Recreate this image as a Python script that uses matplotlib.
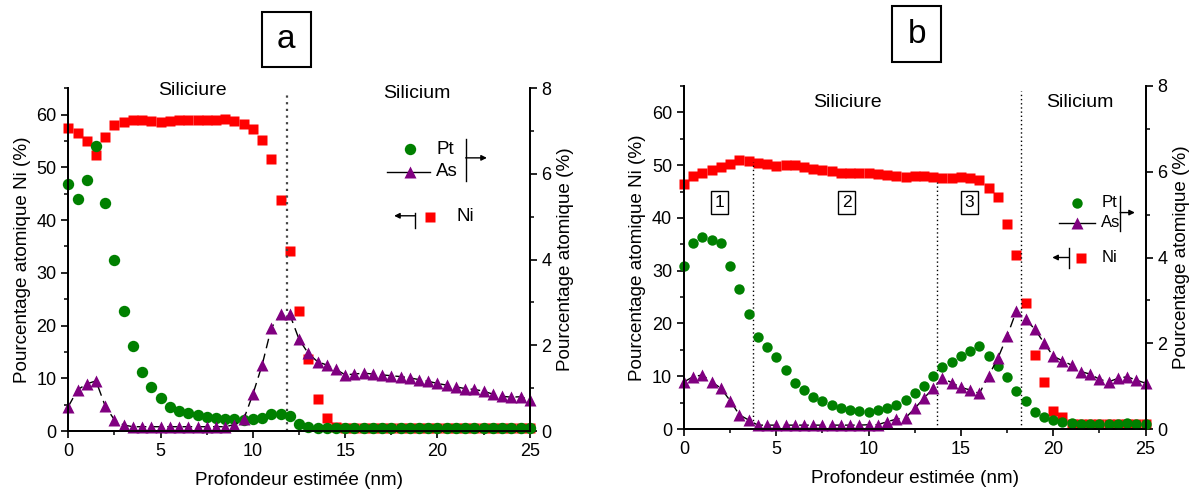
import numpy as np
import matplotlib
matplotlib.use("Agg")
import matplotlib.pyplot as plt
from matplotlib.ticker import MultipleLocator
from matplotlib.patches import Rectangle

plt.rcParams['font.family'] = ['Liberation Sans', 'DejaVu Sans']

# ---------------- data ----------------
depth = np.linspace(0, 25, 51)   # nm, 0.5 nm step

ni_a = [57.5, 56.6, 55.0, 52.3, 55.8, 58.0, 58.7, 59.0, 59.0, 58.8,
        58.6, 58.8, 58.9, 58.9, 58.9, 59.0, 59.0, 59.2, 58.8, 58.2,
        57.3, 55.2, 51.5, 43.8, 34.1, 22.7, 13.6, 6.0, 2.4, 0.8,
        0.5, 0.5, 0.5, 0.5, 0.5, 0.5, 0.5, 0.5, 0.5, 0.5,
        0.5, 0.5, 0.5, 0.5, 0.5, 0.5, 0.5, 0.5, 0.5, 0.5, 0.5]
pt_a = [5.76, 5.41, 5.86, 6.65, 5.33, 4.00, 2.81, 1.99, 1.37, 1.02,
        0.78, 0.57, 0.47, 0.41, 0.37, 0.32, 0.30, 0.28, 0.27, 0.26,
        0.27, 0.31, 0.39, 0.39, 0.34, 0.16, 0.10, 0.07, 0.06, 0.06,
        0.06, 0.06, 0.06, 0.06, 0.06, 0.06, 0.06, 0.06, 0.06, 0.06,
        0.06, 0.06, 0.06, 0.06, 0.06, 0.06, 0.06, 0.06, 0.06, 0.06, 0.06]
as_a = [0.57, 0.96, 1.10, 1.17, 0.58, 0.26, 0.14, 0.10, 0.10, 0.10,
        0.10, 0.10, 0.10, 0.10, 0.10, 0.10, 0.10, 0.10, 0.15, 0.27,
        0.86, 1.54, 2.41, 2.72, 2.72, 2.14, 1.81, 1.62, 1.54, 1.44,
        1.31, 1.33, 1.35, 1.33, 1.31, 1.29, 1.27, 1.24, 1.20, 1.16,
        1.11, 1.07, 1.03, 0.99, 0.97, 0.93, 0.86, 0.81, 0.79, 0.80, 0.72]

ni_b = [46.4, 48.0, 48.5, 49.0, 49.6, 50.3, 51.0, 50.8, 50.5, 50.2,
        49.9, 50.0, 50.0, 49.6, 49.3, 49.1, 48.9, 48.6, 48.5, 48.6,
        48.5, 48.4, 48.2, 47.9, 47.7, 47.9, 48.0, 47.7, 47.5, 47.6,
        47.8, 47.6, 47.2, 45.6, 43.9, 38.8, 33.0, 23.9, 14.0, 9.0,
        3.5, 2.3, 0.9, 0.9, 0.9, 0.9, 0.9, 0.9, 0.9, 0.9, 0.9]
pt_b = [3.80, 4.33, 4.47, 4.40, 4.33, 3.80, 3.27, 2.68, 2.15, 1.92,
        1.67, 1.38, 1.08, 0.91, 0.74, 0.66, 0.56, 0.48, 0.44, 0.43,
        0.40, 0.44, 0.48, 0.56, 0.68, 0.83, 1.00, 1.24, 1.44, 1.57,
        1.70, 1.83, 1.93, 1.71, 1.46, 1.21, 0.89, 0.66, 0.40, 0.29,
        0.21, 0.17, 0.13, 0.12, 0.11, 0.11, 0.11, 0.12, 0.13, 0.12, 0.12]
as_b = [1.10, 1.22, 1.26, 1.10, 0.95, 0.66, 0.33, 0.21, 0.09, 0.09,
        0.09, 0.09, 0.09, 0.09, 0.09, 0.09, 0.09, 0.09, 0.09, 0.09,
        0.10, 0.10, 0.17, 0.23, 0.26, 0.48, 0.72, 0.95, 1.19, 1.08,
        0.97, 0.91, 0.83, 1.24, 1.65, 2.16, 2.75, 2.56, 2.33, 2.01,
        1.70, 1.59, 1.49, 1.34, 1.28, 1.16, 1.10, 1.18, 1.22, 1.14, 1.07]

x_ticks = [0, 5, 10, 15, 20, 25]
left_ticks = [0, 10, 20, 30, 40, 50, 60]
right_ticks = [0, 2, 4, 6, 8]

RED = '#ff0000'
GREEN = '#008000'
PURPLE = '#800080'

fig = plt.figure(figsize=(11.95, 4.91), dpi=100)
W, H = 1195.0, 491.0


def setup(ax, ax2):
    ax.set_xlim(0, 25)
    ax.set_ylim(0, 65)
    ax2.set_ylim(0, 8)
    ax.set_xticks(x_ticks)
    ax.set_yticks(left_ticks)
    ax2.set_yticks(right_ticks)
    ax.xaxis.set_minor_locator(MultipleLocator(2.5))
    ax.yaxis.set_minor_locator(MultipleLocator(5))
    ax2.yaxis.set_minor_locator(MultipleLocator(1))
    for a in (ax, ax2):
        a.spines['top'].set_visible(False)
        for s in a.spines.values():
            s.set_linewidth(1.3)
        a.tick_params(which='major', direction='out', length=5, width=1.2, labelsize=13)
        a.tick_params(which='minor', direction='out', length=3, width=1.1)
    ax.set_xlabel('Profondeur estimée (nm)', fontsize=13.6, labelpad=9)
    ax.set_ylabel('Pourcentage atomique Ni (%)', fontsize=13.6, labelpad=4)
    ax2.set_ylabel('Pourcentage atomique (%)', fontsize=13.6, labelpad=4)
    ax.patch.set_visible(False)


def arrow(ax2, x0, x1, y):
    ax2.annotate('', xy=(x1, y), xytext=(x0, y), xycoords='axes fraction',
                 arrowprops=dict(arrowstyle='-|>', lw=1, color='k', mutation_scale=8,
                                 shrinkA=0, shrinkB=0))


def legend(ax2, p, fs):
    t = ax2.transAxes
    kw = dict(transform=t, clip_on=False)
    ax2.plot([p['pt'][0]], [p['pt'][1]], marker='o', linestyle='none', color=GREEN,
             ms=p['ms'], mec='none', **kw)
    ax2.text(p['txt_x'], p['pt'][1], 'Pt', fontsize=fs, va='center', ha='left', transform=t)
    ax2.plot([p['asl'][0], p['asl'][1]], [p['as_y'], p['as_y']], '-', color='k', lw=1, **kw)
    ax2.plot([p['pt'][0]], [p['as_y']], marker='^', linestyle='none', color=PURPLE,
             ms=p['ms'] + 1, mec='none', **kw)
    ax2.text(p['txt_x'], p['as_y'], 'As', fontsize=fs, va='center', ha='left', transform=t)
    ax2.plot([p['bar1'][0]] * 2, [p['bar1'][1], p['bar1'][2]], '-', color='k', lw=1, **kw)
    arrow(ax2, p['arr1'][0], p['arr1'][1], p['arr1'][2])
    ax2.plot([p['bar2'][0]] * 2, [p['bar2'][1], p['bar2'][2]], '-', color='k', lw=1, **kw)
    arrow(ax2, p['arr2'][0], p['arr2'][1], p['arr2'][2])
    ax2.plot([p['ni'][0]], [p['ni'][1]], marker='s', linestyle='none', color=RED,
             ms=p['ms'] - 0.5, mec='none', **kw)
    ax2.text(p['ni_txt'], p['ni'][1], 'Ni', fontsize=fs, va='center', ha='left', transform=t)


# ---------------- panel a ----------------
axA = fig.add_axes([68.3 / W, 1 - 431 / H, 461.5 / W, 342.7 / H])
axA2 = axA.twinx()
setup(axA, axA2)
axA.plot(depth, ni_a, marker='s', linestyle='none', color=RED, ms=7.7, mec='none', clip_on=False)
axA.plot([11.83, 11.83], [0, 64], linestyle=(0, (1, 2)), color='#444444', lw=1.6)
axA2.plot(depth, pt_a, marker='o', linestyle='none', color=GREEN, ms=8.2, mec='none', clip_on=False)
axA2.plot(depth, as_a, marker='^', ms=8.7, mec='none', clip_on=False,
          linestyle=(0, (7, 4)), lw=1.0, color='k', markerfacecolor=PURPLE)
axA.text(6.75, 64.6, 'Siliciure', fontsize=14, ha='center', va='center')
axA.text(18.9, 64.0, 'Silicium', fontsize=14, ha='center', va='center')
legend(axA2, dict(pt=(0.740, 0.822), txt_x=0.797, asl=(0.690, 0.783), as_y=0.757,
                  bar1=(0.861, 0.852, 0.730), arr1=(0.861, 0.907, 0.797),
                  bar2=(0.751, 0.637, 0.591), arr2=(0.751, 0.706, 0.628),
                  ni=(0.784, 0.625), ni_txt=0.842, ms=8.2), 13.5)

# ---------------- panel b ----------------
axB = fig.add_axes([684 / W, 1 - 429 / H, 461.5 / W, 343 / H])
axB2 = axB.twinx()
setup(axB, axB2)
axB.plot(depth, ni_b, marker='s', linestyle='none', color=RED, ms=7.2, mec='none', clip_on=False)
axB.plot([3.75, 3.75], [0, 50.6], linestyle=(0, (1, 2)), color='k', lw=1.0)
axB.plot([13.72, 13.72], [0, 46.9], linestyle=(0, (1, 2)), color='k', lw=1.0)
axB.plot([18.24, 18.24], [0, 64.0], linestyle=(0, (1, 2)), color='k', lw=1.0)
axB2.plot(depth, pt_b, marker='o', linestyle='none', color=GREEN, ms=7.5, mec='none', clip_on=False)
axB2.plot(depth, as_b, marker='^', ms=8.2, mec='none', clip_on=False,
          linestyle=(0, (7, 4)), lw=1.0, color='k', markerfacecolor=PURPLE)
axB.text(8.88, 61.8, 'Siliciure', fontsize=14, ha='center', va='center')
axB.text(21.45, 61.8, 'Silicium', fontsize=14, ha='center', va='center')
for lab, xx in (('1', 1.91), ('2', 8.81), ('3', 15.45)):
    axB.text(xx, 42.9, lab, fontsize=12.5, ha='center', va='center',
             bbox=dict(boxstyle='square,pad=0.22', fc='white', ec='k', lw=1))
legend(axB2, dict(pt=(0.852, 0.660), txt_x=0.904, asl=(0.813, 0.891), as_y=0.602,
                  bar1=(0.945, 0.678, 0.576), arr1=(0.945, 0.977, 0.631),
                  bar2=(0.835, 0.528, 0.470), arr2=(0.835, 0.798, 0.500),
                  ni=(0.860, 0.500), ni_txt=0.906, ms=7.5), 12)

# ---------------- panel letters ----------------
for (x0, y0, x1, y1, lab) in ((261.7, 11.7, 311, 66.7, 'a'), (892.3, 6, 941, 62.3, 'b')):
    fig.patches.append(Rectangle((x0 / W, 1 - y1 / H), (x1 - x0) / W, (y1 - y0) / H,
                                 transform=fig.transFigure, fill=False, ec='k', lw=1.5))
    fig.text((x0 + x1) / 2 / W, 1 - (y0 + y1) / 2 / H, lab, fontsize=24,
             ha='center', va='center')

fig.savefig('out.png', dpi=100)
